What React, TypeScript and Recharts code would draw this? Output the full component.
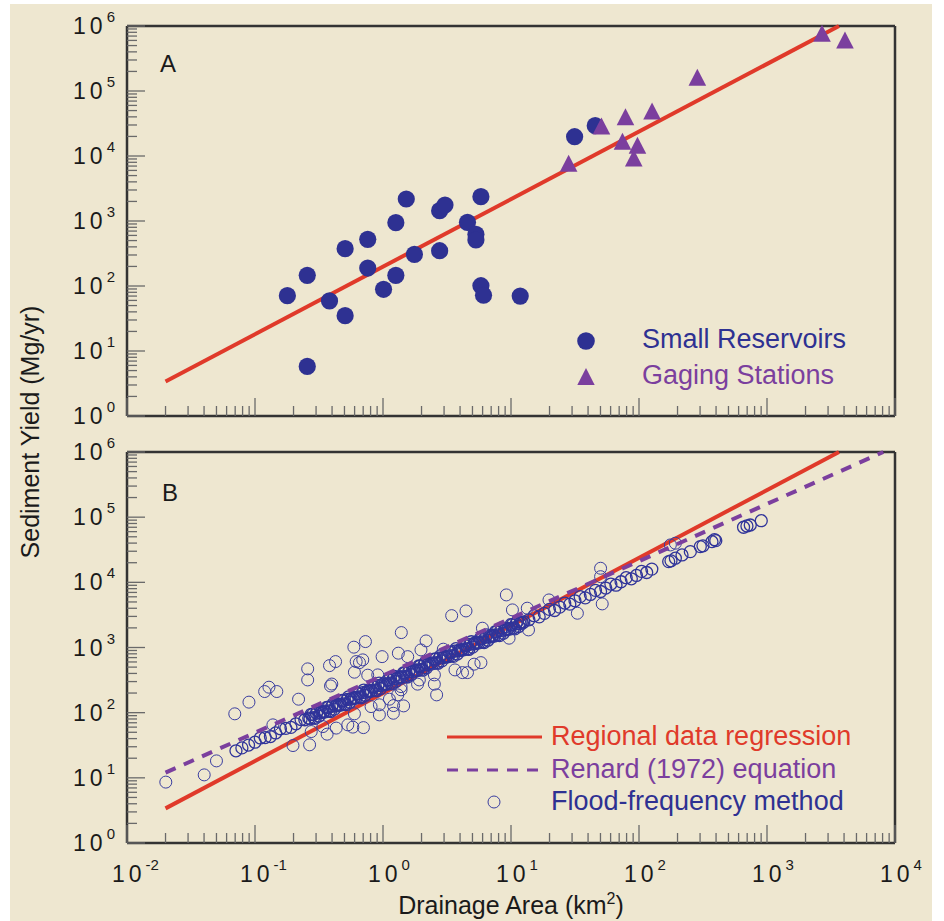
import React from "react";
import { ComposedChart, Scatter, XAxis, YAxis } from "recharts";

const FONT = '"Liberation Sans", Arial, Helvetica, sans-serif';
const BG = "#EEE7D0";
const BLUE = "#2E3192";
const PURPLE = "#7B3F9E";
const RED = "#E03A2A";
const RING = "#3A3EA0";
const AXIS = "#333333";
const TICK = "#6a6a6a";

// [drainage area km2, sediment yield Mg/yr]
const smallReservoirs: [number, number][] = [
  [0.179, 71], [0.256, 146], [0.256, 5.8], [0.382, 59], [0.506, 375], [0.506, 35],
  [0.76, 522], [0.76, 189], [1.01, 89], [1.26, 942], [1.26, 146], [1.52, 2180],
  [1.76, 307], [2.77, 1442], [3.05, 1762], [2.77, 349], [4.57, 955], [5.32, 624],
  [5.32, 510], [5.82, 2366], [5.82, 101], [6.1, 72], [11.8, 70], [31.4, 19800], [45.5, 29250],
];

const gagingStations: [number, number][] = [
  [28.2, 7710], [50.9, 28960], [78.4, 40270], [74.3, 16830], [97.3, 14620],
  [91, 9320], [126.5, 49250], [285.6, 162300], [2690, 771000], [4066, 609000],
];

// line end points
const regressionLine: [number, number][] = [[0.02, 3.4], [3650, 1000000]];
const renardLine: [number, number][] = [[0.02, 12], [8100, 1000000]];

// flood-frequency estimates, dense band
const floodBand: [number, number][] = [
  [0.071, 26], [0.079, 28.8], [0.089, 31.8], [0.1, 35.2], [0.11, 40.9], [0.12, 41.5],
  [0.132, 43], [0.145, 48.8], [0.158, 56.6], [0.174, 57.4], [0.191, 59.4], [0.209, 67.5],
  [0.229, 78.3], [0.245, 77.8],
  [0.263, 82.6], [0.275, 94.4], [0.288, 83.8], [0.302, 97.7], [0.316, 88.7], [0.331, 103.8],
  [0.347, 105.4], [0.363, 120.5], [0.38, 106.9], [0.398, 124.7], [0.417, 113.2], [0.437, 132.1],
  [0.457, 134.6], [0.479, 153.8], [0.501, 136.1], [0.525, 159.2], [0.55, 144.5], [0.575, 168.7],
  [0.603, 171.8], [0.631, 196.3], [0.661, 173.8], [0.692, 203.2], [0.724, 184.5], [0.759, 215.3],
  [0.794, 219.3], [0.832, 250], [0.871, 221.8], [0.912, 259.4], [0.955, 235], [1.0, 274.8],
  [1.047, 279.9], [1.096, 319.2], [1.148, 283.1], [1.202, 331.1], [1.259, 299.9], [1.318, 350.8],
  [1.38, 356.5], [1.445, 407.4], [1.514, 361.4], [1.585, 421.7], [1.66, 382.8], [1.738, 447.7],
  [1.82, 455], [1.905, 520], [1.995, 461.3], [2.089, 538.3], [2.188, 488.7], [2.291, 571.5],
  [2.399, 580.8], [2.512, 663.7], [2.63, 587.5], [2.754, 687.1], [2.884, 623.7], [3.02, 727.8],
  [3.162, 741.3], [3.311, 847.2], [3.467, 749.9], [3.631, 877], [3.802, 796.2], [3.981, 929],
  [4.169, 946.2], [4.365, 1079], [4.571, 957.2], [4.786, 1119], [5.012, 1014], [5.248, 1186],
  [5.495, 1208], [5.754, 1377], [6.026, 1222], [6.31, 1429], [6.607, 1294], [6.918, 1514],
  [7.244, 1542], [7.586, 1758], [7.943, 1560], [8.318, 1820], [8.71, 1652], [9.12, 1932],
  [9.55, 1963], [10.0, 2244], [10.47, 1991], [10.96, 2312], [11.48, 2094], [12.02, 2438],
  [12.59, 2472],
  [13.8, 2661], [15.14, 3076], [16.6, 2951], [18.2, 3334], [19.95, 3846], [21.9, 3698],
  [24.0, 4169], [26.3, 4808], [28.8, 4624], [31.6, 5212], [34.7, 6026], [38.0, 5781],
  [41.7, 6516], [45.7, 7534], [50.1, 7228], [55.0, 8166], [60.3, 9419], [66.1, 9036],
  [72.4, 10210], [79.4, 11780], [87.1, 11320], [95.5, 12760], [104.7, 14720], [114.8, 14160],
  [125.9, 15960],
  [170.6, 20800], [177.8, 21380], [192.3, 23440], [216.8, 26300], [251.8, 29580],
  [301.3, 35320], [316, 36310], [371.5, 42070], [389, 45190], [398, 43650],
  [656, 70000], [697, 73280], [740, 75860], [902, 88310],
];

// second row of the band, where the circles pile up
const floodBandInner: [number, number][] = [
  [0.269, 80.5], [0.282, 94.2], [0.295, 81.7], [0.309, 106.9], [0.324, 99.3], [0.339, 100.9],
  [0.355, 102.8], [0.372, 120.2], [0.389, 104], [0.407, 136.5], [0.427, 126.8], [0.447, 128.8],
  [0.468, 131.2], [0.49, 153.5], [0.513, 132.7], [0.537, 174.2], [0.562, 161.8], [0.589, 164.4],
  [0.617, 167.5], [0.646, 195.4], [0.676, 169.4], [0.708, 222.3], [0.741, 206.1], [0.776, 209.9],
  [0.813, 213.8], [0.851, 249.5], [0.891, 216.3], [0.933, 283.8], [0.977, 263], [1.023, 267.9],
  [1.072, 272.3], [1.122, 318.4], [1.175, 276.1], [1.23, 361.4], [1.288, 335.7], [1.349, 342],
  [1.413, 347.5], [1.479, 406.4], [1.549, 352.4], [1.622, 461.3], [1.698, 428.5], [1.778, 436.5],
  [1.862, 443.6], [1.95, 518.8], [2.042, 448.7], [2.138, 588.8], [2.239, 547], [2.344, 555.9],
  [2.455, 566.2], [2.57, 662.2], [2.692, 572.8], [2.818, 751.6], [2.951, 698.2], [3.09, 709.6],
  [3.236, 722.8], [3.388, 843.3], [3.548, 731.1], [3.715, 959.4], [3.89, 889.2], [4.074, 905.7],
  [4.266, 922.6], [4.467, 1076], [4.677, 933.3], [4.898, 1225], [5.129, 1135], [5.37, 1156],
  [5.623, 1178], [5.888, 1374], [6.166, 1191], [6.457, 1560], [6.761, 1449], [7.079, 1476],
  [7.413, 1500], [7.762, 1754], [8.128, 1521], [8.511, 1991], [8.913, 1849], [9.333, 1884],
  [9.772, 1914], [10.23, 2239], [10.72, 1932], [11.22, 2529], [11.75, 2339], [12.3, 2371],
];

// flood-frequency estimates away from the band
const floodScatter: [number, number][] = [
  [0.0201, 8.6], [0.0401, 11.1], [0.05, 18.2], [0.0695, 96], [0.0897, 145], [0.119, 211],
  [0.1285, 246], [0.148, 211], [0.138, 65], [0.198, 31.3], [0.267, 32.1], [0.219, 161],
  [0.258, 470], [0.258, 318], [0.275, 51.3], [0.339, 61.2], [0.366, 46.8], [0.382, 527],
  [0.426, 608], [0.389, 257], [0.398, 275], [0.431, 58], [0.531, 65], [0.581, 60],
  [0.592, 1012], [0.729, 1233], [0.695, 646], [0.655, 586], [0.598, 418], [0.76, 376],
  [0.598, 96], [0.984, 724], [1.39, 1694], [1.318, 818], [1.56, 724], [1.98, 918],
  [2.17, 1262], [3.44, 3083], [4.45, 3639], [5.98, 1977], [2.96, 942], [9.2, 6412],
  [10.26, 3776], [0.807, 124], [0.937, 92.5], [1.205, 98], [1.449, 127], [1.21, 128.5],
  [0.937, 132], [1.384, 224], [1.122, 161], [1.923, 318], [1.862, 274], [2.518, 274],
  [2.624, 187.5], [3.65, 453], [4.18, 412], [4.57, 412], [5.15, 555], [5.82, 586],
  [2.52, 380], [0.703, 59], [1.303, 187.5], [0.91, 380], [1.384, 251], [0.617, 608],
  [13.4, 4009], [19.8, 5370], [50.1, 16440], [50.1, 12220], [33, 3357], [51.6, 4667],
  [13.7, 1862], [9.66, 1390], [175.8, 37500], [192.3, 39800],
];

const xDecades = [0.01, 0.1, 1, 10, 100, 1000];
const yDecades = [1, 10, 100, 1000, 10000, 100000];
const steps = [1, 2, 3, 4, 5, 6, 7, 8, 9];
const xTicks = [...xDecades.flatMap((d) => steps.map((s) => d * s)), 10000];
const yTicks = [...yDecades.flatMap((d) => steps.map((s) => d * s)), 1000000];

const rows = (pts: [number, number][]) => pts.map(([x, y]) => ({ x, y }));

const isMajor = (v: number) => {
  const l = Math.log10(v);
  return Math.abs(l - Math.round(l)) < 1e-6;
};

function PowerText({ x, y, exp, anchor }: { x: number; y: number; exp: number; anchor: "start" | "end" }) {
  return (
    <text x={x} y={y} textAnchor={anchor} fontFamily={FONT} fontSize={23} fill="#1a1a1a">
      1<tspan dx={4}>0</tspan>
      <tspan dx={4} dy={-12} fontSize={15}>
        {exp}
      </tspan>
    </text>
  );
}

function makeTick(side: "bottom" | "top" | "left" | "right", labels: boolean) {
  return (props: any) => {
    const { x, y, payload } = props;
    const v = payload.value;
    const major = isMajor(v);
    const len = major ? 18 : 10;
    let x2 = x;
    let y2 = y;
    if (side === "bottom") y2 = y - len;
    if (side === "top") y2 = y + len;
    if (side === "left") x2 = x + len;
    if (side === "right") x2 = x - len;
    const exp = Math.round(Math.log10(v));
    return (
      <g>
        <line x1={x} y1={y} x2={x2} y2={y2} stroke={TICK} strokeWidth={1.3} />
        {labels && major && side === "bottom" && <PowerText x={x - 15} y={y + 39} exp={exp} anchor="start" />}
        {labels && major && side === "left" && <PowerText x={x - 12} y={y + 8} exp={exp} anchor="end" />}
      </g>
    );
  };
}

function axes(xLabels: boolean) {
  const common = {
    tickLine: false,
    tickSize: 0,
    tickMargin: 0,
    interval: 0 as const,
    axisLine: { stroke: AXIS, strokeWidth: 2.5 },
  };
  return [
    <XAxis key="xb" xAxisId="bottom" type="number" dataKey="x" scale="log" domain={[0.01, 10000]}
      ticks={xTicks} height={10} tick={makeTick("bottom", xLabels)} {...common} />,
    <XAxis key="xt" xAxisId="top" orientation="top" type="number" dataKey="x" scale="log"
      domain={[0.01, 10000]} ticks={xTicks} height={10} tick={makeTick("top", false)} {...common} />,
    <YAxis key="yl" yAxisId="left" type="number" dataKey="y" scale="log" domain={[1, 1000000]}
      ticks={yTicks} width={60} tick={makeTick("left", true)} {...common} />,
    <YAxis key="yr" yAxisId="right" orientation="right" type="number" dataKey="y" scale="log"
      domain={[1, 1000000]} ticks={yTicks} width={10} tick={makeTick("right", false)} {...common} />,
  ];
}

const DotShape = (p: any) => <circle cx={p.cx} cy={p.cy} r={8.6} fill={BLUE} />;
const TriShape = (p: any) => (
  <polygon
    points={`${p.cx},${p.cy - 8.5} ${p.cx - 8.8},${p.cy + 8.5} ${p.cx + 8.8},${p.cy + 8.5}`}
    fill={PURPLE}
  />
);
const RingShape = (p: any) => (
  <circle cx={p.cx} cy={p.cy} r={6} fill="none" stroke={RING} strokeWidth={1} />
);
// band rings sit on top of each other; a touch heavier so the pile reads dark
const BandRing = (p: any) => (
  <circle cx={p.cx} cy={p.cy} r={6} fill="none" stroke="#30349A" strokeWidth={1.3} />
);
const NoShape = () => <g />;

export default function App() {
  return (
    <div style={{ position: "absolute", left: 0, top: 0, width: 944, height: 921, background: "#fff", overflow: "hidden" }}>
      <div style={{ position: "absolute", left: 10, top: 4, width: 922, height: 917, background: BG }} />

      {/* panel A */}
      <div style={{ position: "absolute", left: 0, top: 0 }}>
        <ComposedChart width={944} height={440} margin={{ top: 16, right: 39, bottom: 14, left: 67 }}>
          {axes(false)}
          <Scatter xAxisId="bottom" yAxisId="left" data={rows(regressionLine)} fill={RED}
            line={{ stroke: RED, strokeWidth: 4 }} shape={NoShape} isAnimationActive={false} />
          <Scatter xAxisId="bottom" yAxisId="left" data={rows(smallReservoirs)} fill={BLUE}
            shape={DotShape} isAnimationActive={false} />
          <Scatter xAxisId="bottom" yAxisId="left" data={rows(gagingStations)} fill={PURPLE}
            shape={TriShape} isAnimationActive={false} />
        </ComposedChart>
      </div>

      {/* panel B */}
      <div style={{ position: "absolute", left: 0, top: 420 }}>
        <ComposedChart width={944} height={501} margin={{ top: 22, right: 39, bottom: 68, left: 67 }}>
          {axes(true)}
          <Scatter xAxisId="bottom" yAxisId="left" data={rows(regressionLine)} fill={RED}
            line={{ stroke: RED, strokeWidth: 4 }} shape={NoShape} isAnimationActive={false} />
          <Scatter xAxisId="bottom" yAxisId="left" data={rows(floodBand)} fill="none"
            shape={BandRing} isAnimationActive={false} />
          <Scatter xAxisId="bottom" yAxisId="left" data={rows(floodBandInner)} fill="none"
            shape={BandRing} isAnimationActive={false} />
          <Scatter xAxisId="bottom" yAxisId="left" data={rows(floodScatter)} fill="none"
            shape={RingShape} isAnimationActive={false} />
          <Scatter xAxisId="bottom" yAxisId="left" data={rows(renardLine)} fill={PURPLE}
            line={{ stroke: PURPLE, strokeWidth: 4, strokeDasharray: "11 9" }} shape={NoShape}
            isAnimationActive={false} />
        </ComposedChart>
      </div>

      <svg width={944} height={921} style={{ position: "absolute", left: 0, top: 0, pointerEvents: "none" }}>
        <g fontFamily={FONT}>
          <text x={160} y={72} fontSize={24} fill="#1a1a1a">A</text>
          <text x={162} y={501} fontSize={24} fill="#1a1a1a">B</text>

          {/* legend A */}
          <circle cx={586} cy={341} r={8.8} fill={BLUE} />
          <polygon points="586,368 577.3,385 594.7,385" fill={PURPLE} />
          <text x={642} y={348} fontSize={27} fill={BLUE}>Small Reservoirs</text>
          <text x={642} y={384} fontSize={27} fill={PURPLE}>Gaging Stations</text>

          {/* legend B */}
          <line x1={447} y1={737} x2={542} y2={737} stroke={RED} strokeWidth={3} />
          <line x1={447} y1={770} x2={542} y2={770} stroke={PURPLE} strokeWidth={3} strokeDasharray="11 9" />
          <circle cx={494} cy={802} r={6} fill="none" stroke={RING} strokeWidth={1} />
          <text x={551} y={745} fontSize={27} fill={RED}>Regional data regression</text>
          <text x={551} y={778} fontSize={27} fill={PURPLE}>Renard (1972) equation</text>
          <text x={551} y={810} fontSize={27} fill={BLUE}>Flood-frequency method</text>

          {/* axis titles */}
          <text x={39} y={432} fontSize={25} fill="#1a1a1a" textAnchor="middle" transform="rotate(-90 39 432)">
            Sediment Yield (Mg/yr)
          </text>
          <text x={511} y={914} fontSize={25} fill="#1a1a1a" textAnchor="middle">
            Drainage Area (km<tspan dy={-10} fontSize={16}>2</tspan><tspan dy={10}>)</tspan>
          </text>
        </g>
      </svg>
    </div>
  );
}
